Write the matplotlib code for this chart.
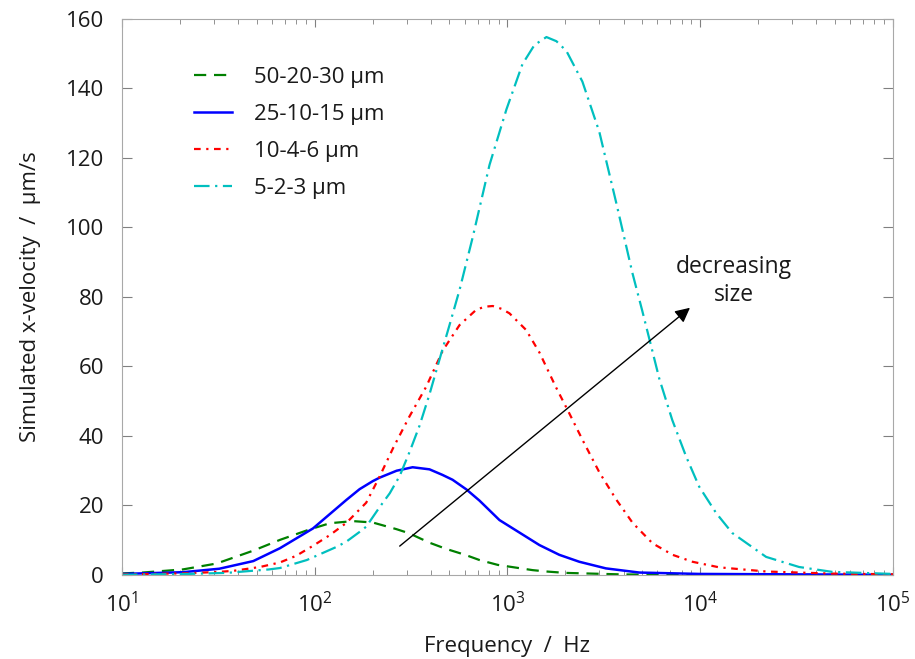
import matplotlib
matplotlib.use("Agg")
import matplotlib.pyplot as plt

plt.rcParams['font.family'] = ['Open Sans', 'DejaVu Sans']
plt.rcParams['mathtext.fontset'] = 'custom'
plt.rcParams['mathtext.rm'] = 'Open Sans'

# values (frequency in Hz, velocity in um/s)
freq_green = [10, 12.8, 20.7, 31, 48, 66, 94, 120, 158, 200, 265, 309, 350, 398, 481, 603, 716, 891,
              1349, 1592, 1995, 4000, 10000, 100000]
vel_green = [0.45, 0.7, 1.6, 3.3, 7.0, 10.1, 13.1, 14.9, 15.5, 15.1, 13.2, 12.0, 10.6, 9.2, 7.5, 5.8, 4.3, 2.9,
             1.4, 1.0, 0.6, 0.15, 0.05, 0.0]

freq_blue = [10, 20.7, 32, 48, 66, 98, 146, 171, 200, 217, 266, 322, 394, 460, 519, 613, 716, 909,
             1466, 1858, 2360, 3240, 4830, 9886, 100000]
vel_blue = [0.3, 0.8, 1.8, 4.0, 7.7, 13.4, 21.6, 24.7, 27.0, 28.0, 30.0, 31.0, 30.4, 28.8, 27.4, 24.6, 21.4, 15.8,
            8.6, 5.8, 3.8, 1.9, 0.7, 0.3, 0.05]

freq_red = [10, 22, 32, 38, 52, 66, 80, 98, 120, 146, 185, 217, 255, 310, 379, 463, 564, 688, 760, 839, 930, 1024,
            1250, 1466, 1786, 2094, 2455, 3000, 3657, 4460, 5661, 7190, 9120, 12540, 21980, 48310, 100000]
vel_red = [0.15, 0.5, 0.9, 1.2, 2.3, 3.6, 5.5, 8.4, 11.5, 15.0, 20.8, 28.3, 36.5, 45.6, 54.2, 64.7, 71.9, 76.3, 77.2, 77.4, 76.6, 75.3,
           70.5, 64.0, 54.0, 46.5, 38.8, 29.5, 21.8, 15.0, 9.1, 5.8, 3.8, 2.2, 1.0, 0.4, 0.2]

freq_cyan = [10, 22, 35, 58, 66, 91, 130, 146, 171, 185, 217, 245, 276, 311, 350, 394, 444, 501, 564, 659,
             807, 988, 1196, 1380, 1593, 1795, 2022, 2447, 2997, 3671, 4444, 5006, 5442, 6133, 7161, 8463,
             9881, 12105, 14651, 21980, 32580, 48310, 100000]
vel_cyan = [0.05, 0.3, 0.6, 1.6, 2.0, 4.3, 8.1, 9.6, 12.4, 13.9, 19.5, 23.5, 28.5, 35.5, 43.0, 52.0, 62.0, 72.0, 82.0, 97.0,
            118.0, 134.0, 147.0, 152.5, 154.8, 153.6, 150.8, 142.0, 127.5, 107.0, 87.0, 76.0, 68.0, 56.5, 44.6, 34.0,
            25.4, 17.8, 12.1, 5.2, 2.3, 0.9, 0.3]

labels = ['50-20-30 µm', '25-10-15 µm', '10-4-6 µm', '5-2-3 µm']

fig = plt.figure(figsize=(9.15, 6.59), dpi=100)
ax = fig.add_axes([0.1333, 0.1275, 0.8426, 0.8437])

ax.plot(freq_green, vel_green, color='#008000', lw=1.6, linestyle=(0, (5.5, 3.5)), label=labels[0])
ax.plot(freq_blue, vel_blue, color='#0000ff', lw=1.8, linestyle='-', label=labels[1])
ax.plot(freq_red, vel_red, color='#ff0000', lw=1.6, linestyle=(0, (3, 2.5, 1, 2.5)), label=labels[2])
ax.plot(freq_cyan, vel_cyan, color='#00bfbf', lw=1.6, linestyle=(0, (7, 2.5, 1, 2.5)), label=labels[3])

ax.set_xscale('log')
ax.set_xlim(10, 1e5)
ax.set_ylim(0, 160)
ax.set_yticks(range(0, 161, 20))

for s in ax.spines.values():
    s.set_color('#a8a8a8')
ax.tick_params(which='both', direction='in', top=True, right=True, colors='#808080', labelcolor='#1a1a1a', labelsize=16)
ax.tick_params(axis='y', which='major', length=7, pad=13)
ax.tick_params(axis='x', which='major', length=6, pad=12)
ax.tick_params(which='minor', length=3.5)

ax.set_xlabel('Frequency  /  Hz', fontsize=16, labelpad=14, color='#1a1a1a')
ax.set_ylabel('Simulated x-velocity  /  µm/s', fontsize=16, labelpad=18, color='#1a1a1a')

ax.annotate('', xy=(9080, 77.4), xytext=(269, 7.8),
            arrowprops=dict(arrowstyle='-|>', color='black', lw=1, mutation_scale=22))
ax.text(15000, 84.6, 'decreasing\nsize', ha='center', va='center', fontsize=16.5, linespacing=1.25, color='#1a1a1a')

leg = ax.legend(loc='upper left', bbox_to_anchor=(0.068, 0.95), frameon=False, fontsize=16,
                handlelength=1.7, handletextpad=1.0, labelspacing=0.72)
for t in leg.get_texts():
    t.set_color('#1a1a1a')

fig.savefig('out.png', dpi=100)
